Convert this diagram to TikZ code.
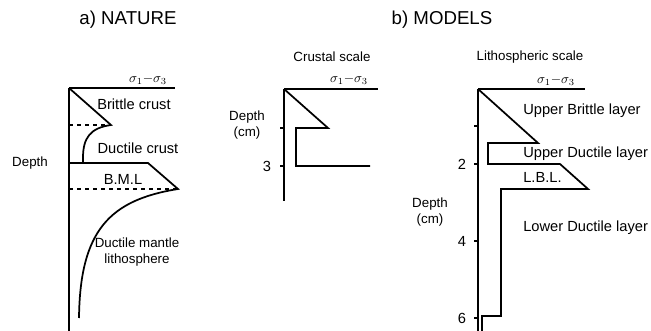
\documentclass[tikz,border=0pt]{standalone}
\usepackage{fontspec}
\setmainfont{Liberation Sans}
\usepackage{amsmath}
\usetikzlibrary{positioning}

\begin{document}
\begin{tikzpicture}[x=0.75pt,y=-0.75pt,
		prof/.style={line width=1.3pt,line join=miter},
		lvl/.style={dashed,line width=0.8pt},
		lbl/.style={font=\fontsize{11}{12}\selectfont,inner sep=0pt},
		sml/.style={font=\fontsize{10}{11}\selectfont,inner sep=0pt,align=center},
		sig/.style={font=\fontsize{10}{11}\selectfont,inner sep=0pt}]
			\useasboundingbox (0,0) rectangle (651,331);
			% titles
			\node[font=\fontsize{14}{15}\selectfont] (ttla) at (128,20) {a) NATURE};
			\node[font=\fontsize{14}{15}\selectfont] (ttlb) at (442,20) {b) MODELS};
			% a) nature: axes
			\draw[prof] (69,88) -- (175,88);
			\draw[prof] (69,88) -- (69,331);
			\node[sig] (siga) at (148,80) {$\sigma_1{-}\sigma_3$};
			\node[sml] (deptha) at (30,163) {Depth};
			% strength profile
			\draw[prof] (69,88) -- (111,125)
				.. controls (90,128) and (83,138) .. (83,158) -- (83,163);
			\draw[prof] (69,163) -- (148,163) -- (178,189)
				.. controls (110,200) and (80,230) .. (79,318);
			\draw[lvl] (69,125) -- (111,125);
			\draw[lvl] (69,189) -- (178,189);
			\node[lbl] (brc) at (134,104) {Brittle crust};
			\node[lbl] (dcc) at (138,148) {Ductile crust};
			\node[lbl] (bml) at (123,179) {B.M.L};
			\node[sml] (dml) at (137,252) {Ductile mantle\\[1pt]lithosphere};
			% b) crustal scale
			\node[sml] (ttlc) at (332,57) {Crustal scale};
			\draw[prof] (284,89) -- (378,89);
			\draw[prof] (284,89) -- (284,201);
			\node[sig] (sigc) at (349,80) {$\sigma_1{-}\sigma_3$};
			\draw[prof] (284,89) -- (328,128) -- (296,128) -- (296,166) -- (370,166);
			\draw[line width=0.9pt] (280,128) -- (284,128);
			\draw[line width=0.9pt] (280,166) -- (284,166);
			\node[lbl] (c3) at (267,166) {3};
			\node[sml] (depthc) at (247,125) {Depth\\[1pt](cm)};
			% b) lithospheric scale
			\node[sml] (ttll) at (530,57) {Lithospheric scale};
			\draw[prof] (478,89) -- (585,89);
			\draw[prof] (478,89) -- (478,331);
			\node[sig] (sigl) at (556,81) {$\sigma_1{-}\sigma_3$};
			\draw[prof] (478,89) -- (538,143) -- (488,143) -- (488,164) -- (560,164)
				-- (588,189) -- (501,189) -- (501,316) -- (482,316) -- (482,331);
			\foreach \yy in {126,164,241,318}
				\draw[line width=0.9pt] (474,\yy) -- (478,\yy);
			\node[lbl] (l2) at (462,164) {2};
			\node[lbl] (l4) at (462,241) {4};
			\node[lbl] (l6) at (462,318) {6};
			\node[sml] (depthl) at (430,212) {Depth\\[1pt](cm)};
			\node[lbl,anchor=west] (ubl) at (523,111) {Upper Brittle layer};
			\node[lbl,anchor=west] (udl) at (523,154) {Upper Ductile layer};
			\node[lbl,anchor=west] (lbl) at (523,177) {L.B.L.};
			\node[lbl,anchor=west] (ldl) at (523,228) {Lower Ductile layer};
		\end{tikzpicture}
\end{document}
